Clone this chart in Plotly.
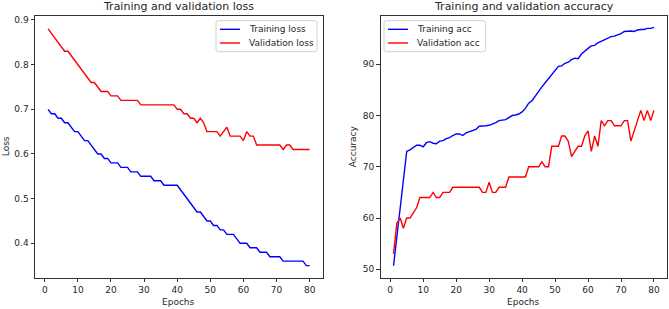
import plotly.graph_objects as go

epochs = list(range(1, 81))

train_loss = [0.70, 0.69, 0.69, 0.68, 0.68, 0.67, 0.67, 0.66, 0.65, 0.65,
              0.64, 0.63, 0.63, 0.62, 0.61, 0.60, 0.60, 0.59, 0.59, 0.58,
              0.58, 0.58, 0.57, 0.57, 0.57, 0.56, 0.56, 0.56, 0.55, 0.55,
              0.55, 0.55, 0.54, 0.54, 0.54, 0.53, 0.53, 0.53, 0.53, 0.53,
              0.52, 0.51, 0.50, 0.49, 0.48, 0.47, 0.47, 0.46, 0.45, 0.45,
              0.44, 0.44, 0.43, 0.43, 0.42, 0.42, 0.42, 0.41, 0.40, 0.40,
              0.40, 0.39, 0.39, 0.39, 0.38, 0.38, 0.38, 0.37, 0.37, 0.37,
              0.37, 0.36, 0.36, 0.36, 0.36, 0.36, 0.36, 0.36, 0.35, 0.35]

val_loss = [0.88, 0.87, 0.86, 0.85, 0.84, 0.83, 0.83, 0.82, 0.81, 0.80,
            0.79, 0.78, 0.77, 0.76, 0.76, 0.75, 0.74, 0.74, 0.74, 0.73,
            0.73, 0.73, 0.72, 0.72, 0.72, 0.72, 0.72, 0.72, 0.71, 0.71,
            0.71, 0.71, 0.71, 0.71, 0.71, 0.71, 0.71, 0.71, 0.71, 0.70,
            0.70, 0.69, 0.69, 0.68, 0.68, 0.67, 0.68, 0.67, 0.65, 0.65,
            0.65, 0.65, 0.64, 0.65, 0.66, 0.64, 0.64, 0.64, 0.64, 0.63,
            0.65, 0.64, 0.64, 0.62, 0.62, 0.62, 0.62, 0.62, 0.62, 0.62,
            0.62, 0.61, 0.62, 0.62, 0.61, 0.61, 0.61, 0.61, 0.61, 0.61]

train_acc = [50.7, 56.2, 61.8, 67.4, 73.0, 73.3, 73.7, 74.2, 74.2, 73.9,
             74.7, 74.9, 74.6, 74.5, 75.0, 75.1, 75.5, 75.7, 76.1, 76.4,
             76.4, 76.1, 76.6, 76.8, 77.1, 77.3, 77.9, 77.9, 78.0, 78.1,
             78.3, 78.6, 79.0, 79.1, 79.2, 79.6, 80.0, 80.1, 80.3, 80.7,
             81.4, 82.4, 82.9, 83.8, 84.8, 85.6, 86.4, 87.2, 88.2, 89.0,
             89.6, 89.7, 90.2, 90.4, 90.9, 91.2, 91.1, 92.0, 92.6, 93.1,
             93.6, 93.7, 94.2, 94.5, 94.8, 95.0, 95.4, 95.5, 95.7, 96.0,
             96.4, 96.5, 96.5, 96.4, 96.7, 96.8, 96.8, 97.0, 97.0, 97.2]

val_acc = [53, 59, 60, 58, 60, 60, 61, 62, 64, 64,
           64, 64, 65, 64, 64, 65, 65, 65, 66, 66,
           66, 66, 66, 66, 66, 66, 66, 65, 65, 67,
           65, 65, 66, 66, 66, 68, 68, 68, 68, 68,
           68, 70, 70, 70, 70, 71, 70, 70, 74, 74,
           74, 76, 76, 75, 72, 73, 74, 74, 76, 77,
           73, 76, 74, 79, 78, 79, 79, 78, 78, 78,
           79, 79, 75, 77, 79, 81, 79, 81, 79, 81]

loss_ticks = [0.4, 0.5, 0.6, 0.7, 0.8, 0.9]
acc_ticks = [50, 60, 70, 80, 90]
epoch_ticks = [0, 10, 20, 30, 40, 50, 60, 70, 80]

loss_names = ["Training loss", "Validation loss"]
acc_names = ["Training acc", "Validation acc"]
colors = ["#0000ff", "#ff0000"]

W, H = 669, 309
FONT = "DejaVu Sans"
TXT = "#262626"
LW = 1.4

fig = go.Figure()
for ys, nm, c in zip([train_loss, val_loss], loss_names, colors):
    fig.add_trace(go.Scatter(x=epochs, y=ys, mode="lines", name=nm,
                             line=dict(color=c, width=LW), xaxis="x", yaxis="y"))
for ys, nm, c in zip([train_acc, val_acc], acc_names, colors):
    fig.add_trace(go.Scatter(x=epochs, y=ys, mode="lines", name=nm,
                             line=dict(color=c, width=LW), xaxis="x2", yaxis="y2"))

L1, R1 = 35.0, 322.7
L2, R2 = 380.5, 667.0
T, B = 15.7, 277.7


def px(x):
    return x / W


def py(y):
    return 1 - y / H


axis_common = dict(showline=True, linecolor="#333333", linewidth=1, mirror=True,
                   ticks="outside", ticklen=3.5, tickwidth=1, tickcolor="#333333",
                   showgrid=False, zeroline=False,
                   tickfont=dict(family=FONT, size=9, color=TXT))


def rounded_rect(x0, y0, x1, y1, r=2.5):
    pts = [
        f"M{px(x0 + r)},{py(y0)}",
        f"L{px(x1 - r)},{py(y0)}",
        f"Q{px(x1)},{py(y0)} {px(x1)},{py(y0 + r)}",
        f"L{px(x1)},{py(y1 - r)}",
        f"Q{px(x1)},{py(y1)} {px(x1 - r)},{py(y1)}",
        f"L{px(x0 + r)},{py(y1)}",
        f"Q{px(x0)},{py(y1)} {px(x0)},{py(y1 - r)}",
        f"L{px(x0)},{py(y0 + r)}",
        f"Q{px(x0)},{py(y0)} {px(x0 + r)},{py(y0)}",
        "Z",
    ]
    return dict(type="path", path=" ".join(pts), xref="paper", yref="paper",
                line=dict(color="#d0d0d0", width=1), fillcolor="rgba(255,255,255,0.85)",
                layer="above")


shapes = []
annotations = []


def add_legend(x0, x1, names):
    y0, y1 = 20.7, 51.7
    shapes.append(rounded_rect(x0, y0, x1, y1))
    rows = [29.3, 43.0]
    for nm, c, yy in zip(names, colors, rows):
        shapes.append(dict(type="line", xref="paper", yref="paper",
                           x0=px(x0 + 4), x1=px(x0 + 24), y0=py(yy), y1=py(yy),
                           line=dict(color=c, width=LW), layer="above"))
        annotations.append(dict(text=nm, x=px(x0 + 30.5), y=py(yy), xref="paper", yref="paper",
                                xanchor="left", yanchor="middle", showarrow=False,
                                font=dict(family=FONT, size=9, color=TXT)))


add_legend(216.0, 317.0, loss_names)
add_legend(384.0, 485.7, acc_names)

annotations += [
    dict(text="Training and validation loss", x=px((L1 + R1) / 2), y=py(6.5),
         xref="paper", yref="paper", xanchor="center", yanchor="middle",
         showarrow=False, font=dict(family=FONT, size=11, color=TXT)),
    dict(text="Training and validation accuracy", x=px((L2 + R2) / 2), y=py(6.5),
         xref="paper", yref="paper", xanchor="center", yanchor="middle",
         showarrow=False, font=dict(family=FONT, size=11, color=TXT)),
    dict(text="Epochs", x=px((L1 + R1) / 2), y=py(302.0),
         xref="paper", yref="paper", xanchor="center", yanchor="middle",
         showarrow=False, font=dict(family=FONT, size=9, color=TXT)),
    dict(text="Epochs", x=px((L2 + R2) / 2), y=py(302.0),
         xref="paper", yref="paper", xanchor="center", yanchor="middle",
         showarrow=False, font=dict(family=FONT, size=9, color=TXT)),
    dict(text="Loss", x=px(5.5), y=py((T + B) / 2), textangle=-90,
         xref="paper", yref="paper", xanchor="center", yanchor="middle",
         showarrow=False, font=dict(family=FONT, size=9, color=TXT)),
    dict(text="Accuracy", x=px(352.5), y=py((T + B) / 2), textangle=-90,
         xref="paper", yref="paper", xanchor="center", yanchor="middle",
         showarrow=False, font=dict(family=FONT, size=9, color=TXT)),
]

fig.update_layout(
    width=W, height=H,
    margin=dict(l=0, r=0, t=0, b=0),
    paper_bgcolor="white", plot_bgcolor="white",
    font=dict(family=FONT, color=TXT),
    showlegend=False,
    hovermode=False,
    xaxis=dict(domain=[px(L1), px(R1)], range=[-2.95, 83.95], tickvals=epoch_ticks,
               anchor="y", **axis_common),
    yaxis=dict(domain=[py(B), py(T)], range=[0.323, 0.9096], tickvals=loss_ticks,
               tickformat=".1f", anchor="x", **axis_common),
    xaxis2=dict(domain=[px(L2), px(R2)], range=[-2.95, 83.95], tickvals=epoch_ticks,
                anchor="y2", **axis_common),
    yaxis2=dict(domain=[py(B), py(T)], range=[48.36, 99.48], tickvals=acc_ticks,
                anchor="x2", **axis_common),
    shapes=shapes,
    annotations=annotations,
)

fig.write_html("out.html",
               config={"displayModeBar": False, "staticPlot": True},
               post_script="document.body.style.margin='0px';document.body.style.overflow='hidden';")
